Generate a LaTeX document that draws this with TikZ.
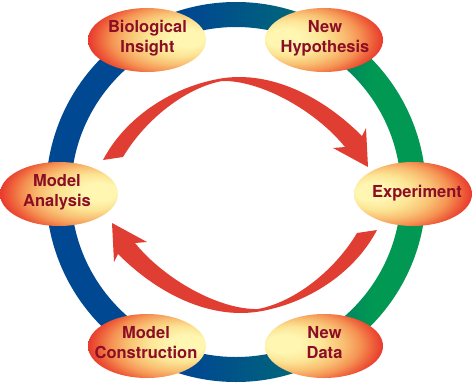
\documentclass[tikz,border=0pt]{standalone}
\usepackage{fontspec}
\usetikzlibrary{shapes.geometric}
\newfontfamily\lblfont{TeX Gyre Heros}
\definecolor{rblue}{RGB}{0,72,145}
\definecolor{rteal}{RGB}{0,98,125}
\definecolor{rgreen}{RGB}{0,152,82}
\definecolor{hlA}{RGB}{255,246,178}
\definecolor{hlB}{RGB}{252,228,148}
\definecolor{hlC}{RGB}{249,192,115}
\definecolor{hlD}{RGB}{245,148,84}
\definecolor{hlE}{RGB}{238,96,58}
\definecolor{hlF}{RGB}{228,34,38}
\definecolor{txtred}{RGB}{139,14,38}
\definecolor{arrred}{RGB}{224,62,50}
\pgfdeclarehorizontalshading{ringshade}{100bp}{color(0bp)=(rblue); color(44bp)=(rblue); color(56bp)=(rteal); color(68bp)=(rgreen); color(100bp)=(rgreen)}
\pgfdeclareradialshading{ellR}{\pgfpoint{20bp}{2bp}}{color(0bp)=(hlA); color(7bp)=(hlA); color(14bp)=(hlB); color(20bp)=(hlC); color(25bp)=(hlD); color(29bp)=(hlE); color(34bp)=(hlF); color(50bp)=(hlF)}
\pgfdeclareradialshading{ellL}{\pgfpoint{-20bp}{2bp}}{color(0bp)=(hlA); color(7bp)=(hlA); color(14bp)=(hlB); color(20bp)=(hlC); color(25bp)=(hlD); color(29bp)=(hlE); color(34bp)=(hlF); color(50bp)=(hlF)}
\newcommand{\twoln}[2]{\rule{0pt}{12pt}#1\\#2\rule[-7pt]{0pt}{7pt}}
\begin{document}
\begin{tikzpicture}[x=1pt,y=-1pt,
  ell/.style={ellipse, minimum width=118pt, minimum height=64pt, inner sep=0pt},
  lbl/.style={font=\lblfont\bfseries\fontsize{16.5}{20}\selectfont, text=txtred, align=center, inner sep=0pt},
  arrowfill/.style={fill=arrred}]
\useasboundingbox (0,0) rectangle (473,386);
% ring
\shade[shading=ringshade, even odd rule] (236,192) circle[radius=190pt] (236,192) circle[radius=165pt];
% cycle arrows (the lower one is the upper one turned half round)
\foreach \r in {0,180}{
\fill[arrowfill, rotate around={\r:(240,195)}]
  (103,160) .. controls (125,118) and (170,88) .. (218,79)
  .. controls (265,70) and (318,92) .. (362,136)
  -- (366,128) -- (368,167) -- (333,148) -- (345,147)
  .. controls (315,110) and (260,80) .. (222,81)
  .. controls (185,88) and (145,120) .. (123,157)
  -- cycle;
}
% ellipses
\node[ell, shading=ellR] (bi) at (147,40) {};
\node[ell, shading=ellL] (nh) at (324,40) {};
\node[ell, shading=ellR] (ma) at (59,194) {};
\node[ell, shading=ellL] (ex) at (413,194) {};
\node[ell, shading=ellR] (mc) at (147,346) {};
\node[ell, shading=ellL] (nd) at (324,346) {};
% labels
\node[lbl] (biT) at ([xshift=0.5pt]bi.center) {\twoln{Biological}{Insight}};
\node[lbl] (nhT) at ([xshift=1pt]nh.center) {\twoln{New}{Hypothesis}};
\node[lbl] (maT) at ([xshift=-2pt]ma.center) {\twoln{Model}{Analysis}};
\node[lbl] (exT) at ([xshift=4pt]ex.center) {\rule{0pt}{12pt}Experiment\rule[-6pt]{0pt}{6pt}};
\node[lbl] (mcT) at ([xshift=-1pt]mc.center) {\twoln{Model}{Construction}};
\node[lbl] (ndT) at ([xshift=0.5pt]nd.center) {\twoln{New}{Data}};
\end{tikzpicture}
\end{document}
